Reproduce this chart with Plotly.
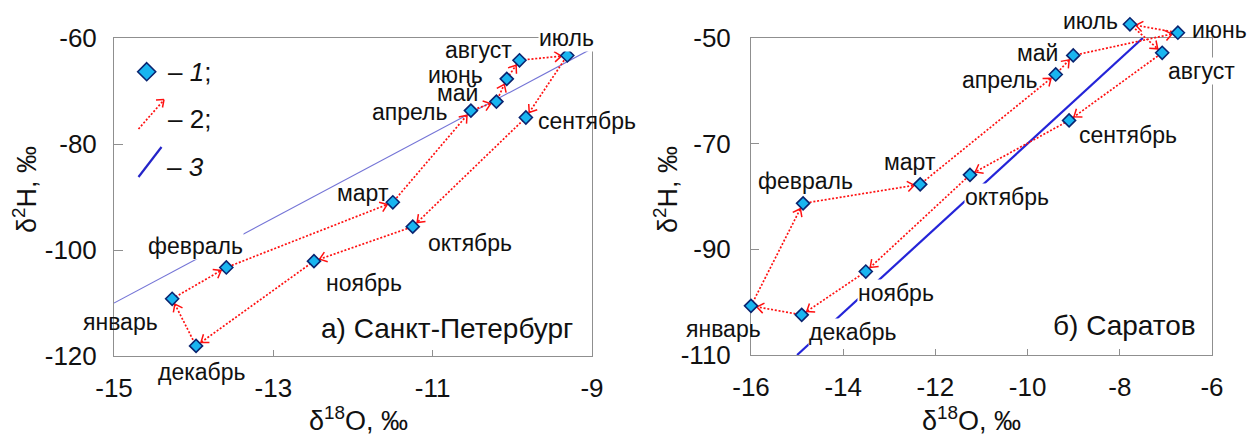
import math
import plotly.graph_objects as go

# ---------------- data ----------------
months = ['январь', 'февраль', 'март', 'апрель', 'май', 'июнь',
          'июль', 'август', 'сентябрь', 'октябрь', 'ноябрь', 'декабрь']

# a) Saint Petersburg
spb_d18O = [-14.27, -13.59, -11.50, -10.52, -10.20, -10.07, -9.31, -9.91, -9.83, -11.25, -12.49, -13.97]
spb_d2H = [-109.2, -103.3, -91.0, -73.7, -72.0, -67.7, -63.3, -64.2, -75.0, -95.6, -102.1, -118.1]
spb_path = [0, 1, 2, 3, 4, 5, 7, 6, 8, 9, 10, 11]

# b) Saratov
sar_d18O = [-16.0, -14.87, -12.33, -9.39, -9.01, -6.74, -7.78, -7.08, -9.10, -11.25, -13.51, -14.90]
sar_d2H = [-100.7, -81.3, -77.7, -56.9, -53.3, -49.0, -47.4, -52.8, -65.6, -75.9, -94.2, -102.4]
sar_path = [0, 1, 2, 3, 4, 5, 6, 7, 8, 9, 10, 11]

# line 3 (meteoric water line) end points
mwl_spb_x = [-15, -9]
mwl_spb_y = [-110, -62]
mwl_sar_x = [-15, -7.5]
mwl_sar_y = [-110, -50]

# axes
spb_xticks = [-15, -13, -11, -9]
spb_xtext = ['-15', '-13', '-11', '-9']
spb_yticks = [-120, -100, -80, -60]
spb_ytext = ['-120', '-100', '-80', '-60']
sar_xticks = [-16, -14, -12, -10, -8, -6]
sar_xtext = ['-16', '-14', '-12', '-10', '-8', '-6']
sar_yticks = [-110, -90, -70, -50]
sar_ytext = ['-110', '-90', '-70', '-50']
spb_xrange = [-15, -9]
spb_yrange = [-120, -60]
sar_xrange = [-16, -6]
sar_yrange = [-110, -50]

# ---------------- layout constants ----------------
W, H = 1249, 441
FONT = 'Liberation Sans, Arial, sans-serif'
TXT = '#111111'
FRAME = '#8f8f8f'
FILL = '#19b5f0'
EDGE = '#0a2470'
RED = '#ff1010'
DOTS = '2px,1.8px'

L_box = (114, 592, 38, 356)   # left, right, top, bottom (px)
R_box = (751, 1212, 38, 355)
EXT = 30                       # px margin of the unclipped overlay axes

# label offsets in px (dx right, dy down), chronological order
spb_off = [(-52, 23), (-31, -21), (-30, -9), (-61, 1), (-39, -9), (-51, -4),
           (-1, -17), (-41, -10), (61, 3), (57, 16), (50, 22), (6, 26)]
sar_off = [(-28, 23), (2, -22), (-10, -22), (-56, 6), (-36, -2), (42, -3),
           (-39, -3), (39, 18), (59, 15), (37, 22), (30, 21), (51, 17)]
# which labels have an opaque background (they hide lines behind them)
spb_bg = [0, 1, 0, 0, 0, 0, 1, 0, 0, 0, 0, 0]
sar_bg = [0, 0, 0, 0, 0, 0, 0, 1, 0, 1, 1, 1]


def scales(box, xr, yr):
    return (box[1] - box[0]) / (xr[1] - xr[0]), (box[3] - box[2]) / (yr[1] - yr[0])


def dom_x(b, e=0):
    return [(b[0] - e) / W, (b[1] + e) / W]


def dom_y(b, e=0):
    return [1 - (b[3] + e) / H, 1 - (b[2] - e) / H]


def ext_range(r, pp, e=EXT):
    return [r[0] - e / pp, r[1] + e / pp]


fig = go.Figure()


def add_panel(xs, ys, path, box, xr, yr, mx, my, mwl_color, mwl_width, xa, ya, oxa, oya):
    # line 3 on the framed (clipped) axes
    fig.add_trace(go.Scatter(x=mx, y=my, mode='lines', xaxis=xa, yaxis=ya,
                             line=dict(color=mwl_color, width=mwl_width),
                             showlegend=False, hoverinfo='skip'))
    # dotted path on the unclipped overlay axes
    px = [xs[i] for i in path] + [xs[path[0]]]
    py = [ys[i] for i in path] + [ys[path[0]]]
    fig.add_trace(go.Scatter(x=px, y=py, mode='lines', xaxis=oxa, yaxis=oya,
                             line=dict(color=RED, width=1.7, dash=DOTS),
                             showlegend=False, hoverinfo='skip'))
    # arrow heads (open chevrons) computed from consecutive points
    ppx, ppy = scales(box, xr, yr)
    hx, hy = [], []
    so, arm, half = 6.0, 8.5, math.radians(37)
    n = len(path)
    for k in range(n):
        i, j = path[k], path[(k + 1) % n]
        dx = (xs[j] - xs[i]) * ppx
        dy = (ys[j] - ys[i]) * ppy
        d = math.hypot(dx, dy)
        ux, uy = dx / d, dy / d
        tx, ty = -so * ux, -so * uy          # tip, px relative to end point
        pts = []
        for s in (1, -1):
            c, sn = math.cos(s * half), math.sin(s * half)
            bx = -(ux * c - uy * sn) * arm
            by = -(ux * sn + uy * c) * arm
            pts.append((tx + bx, ty + by))
        for (qx, qy) in (pts[0], (tx, ty), pts[1]):
            hx.append(xs[j] + qx / ppx)
            hy.append(ys[j] + qy / ppy)
        hx.append(None)
        hy.append(None)
    fig.add_trace(go.Scatter(x=hx, y=hy, mode='lines', xaxis=oxa, yaxis=oya,
                             line=dict(color=RED, width=1.5),
                             showlegend=False, hoverinfo='skip'))
    # markers
    fig.add_trace(go.Scatter(x=xs, y=ys, mode='markers', xaxis=oxa, yaxis=oya,
                             marker=dict(symbol='diamond', size=10, color=FILL,
                                         line=dict(color=EDGE, width=1.6)),
                             showlegend=False, text=months))


add_panel(spb_d18O, spb_d2H, spb_path, L_box, spb_xrange, spb_yrange,
          mwl_spb_x, mwl_spb_y, '#7474d6', 1.1, 'x', 'y', 'x3', 'y3')
add_panel(sar_d18O, sar_d2H, sar_path, R_box, sar_xrange, sar_yrange,
          mwl_sar_x, mwl_sar_y, '#2424d8', 2.2, 'x2', 'y2', 'x4', 'y4')

anns = []
shapes = []


def labels(xs, ys, off, bg, xref, yref):
    for k, name in enumerate(months):
        dx, dy = off[k]
        a = dict(x=xs[k], y=ys[k], xref=xref, yref=yref, text=name,
                 showarrow=False, xshift=dx, yshift=-dy,
                 xanchor='center', yanchor='middle', borderpad=0,
                 font=dict(size=23, color=TXT, family=FONT))
        if bg[k]:
            a['bgcolor'] = 'white'
        anns.append(a)


labels(spb_d18O, spb_d2H, spb_off, spb_bg, 'x3', 'y3')
labels(sar_d18O, sar_d2H, sar_off, sar_bg, 'x4', 'y4')


def paper_text(text, cx, cy, size, angle=0, xanchor='center'):
    anns.append(dict(x=cx / W, y=1 - cy / H, xref='paper', yref='paper', text=text,
                     showarrow=False, textangle=angle, xanchor=xanchor, yanchor='middle',
                     font=dict(size=size, color=TXT, family=FONT)))


# axis titles
paper_text('δ<sup>2</sup>H, ‰', 25, 190, 27, -90)
paper_text('δ<sup>2</sup>H, ‰', 666, 190, 27, -90)
paper_text('δ<sup>18</sup>O, ‰', 358, 419, 27)
paper_text('δ<sup>18</sup>O, ‰', 971, 419, 27)
# panel captions
paper_text('а) Санкт-Петербург', 447, 328, 28)
paper_text('б) Саратов', 1124, 325, 28)


def pline(x0, y0, x1, y1, color, width, dash='solid'):
    shapes.append(dict(type='line', xref='paper', yref='paper',
                       x0=x0 / W, y0=1 - y0 / H, x1=x1 / W, y1=1 - y1 / H,
                       line=dict(color=color, width=width, dash=dash)))


# inset legend
cx, cy, h = 146.7, 71.7, 9.0
shapes.append(dict(type='path', xref='paper', yref='paper',
                   path='M {a},{b} L {c},{d} L {a},{e} L {f},{d} Z'.format(
                       a=cx / W, b=1 - (cy - h) / H, c=(cx + h) / W, d=1 - cy / H,
                       e=1 - (cy + h) / H, f=(cx - h) / W),
                   fillcolor=FILL, line=dict(color=EDGE, width=1.6)))
pline(138.5, 129, 163, 101, RED, 1.7, DOTS)
pline(156, 100, 164, 99.5, RED, 1.5)
pline(164, 99.5, 162.5, 107.5, RED, 1.5)
pline(138.5, 177, 161.5, 147, '#2424c8', 2.2)
paper_text('– <i>1</i>;', 166, 72, 26, xanchor='left')
paper_text('– 2;', 166, 119, 26, xanchor='left')
paper_text('– <i>3</i>', 165, 167, 26, xanchor='left')

axis_common = dict(showgrid=False, zeroline=False, showline=True, mirror=True,
                   linecolor=FRAME, linewidth=1, ticks='inside', tickcolor=FRAME,
                   automargin=False, title=dict(text=''),
                   tickfont=dict(size=26, color=TXT, family=FONT), fixedrange=True)
hidden = dict(visible=False, fixedrange=True, showgrid=False, zeroline=False, automargin=False)

ppx_L, ppy_L = scales(L_box, spb_xrange, spb_yrange)
ppx_R, ppy_R = scales(R_box, sar_xrange, sar_yrange)

fig.update_layout(
    template='none',
    width=W, height=H, autosize=False, margin=dict(l=0, r=0, t=0, b=0, pad=0),
    paper_bgcolor='white', plot_bgcolor='rgba(0,0,0,0)', showlegend=False,
    font=dict(family=FONT, color=TXT),
    xaxis=dict(domain=dom_x(L_box), range=spb_xrange, tickvals=spb_xticks, ticktext=spb_xtext,
               ticklen=6, ticklabelstandoff=9, anchor='y', **axis_common),
    yaxis=dict(domain=dom_y(L_box), range=spb_yrange, tickvals=spb_yticks, ticktext=spb_ytext,
               ticklen=9, ticklabelstandoff=11, anchor='x', **axis_common),
    xaxis2=dict(domain=dom_x(R_box), range=sar_xrange, tickvals=sar_xticks, ticktext=sar_xtext,
                ticklen=6, ticklabelstandoff=9, anchor='y2', **axis_common),
    yaxis2=dict(domain=dom_y(R_box), range=sar_yrange, tickvals=sar_yticks, ticktext=sar_ytext,
                ticklen=8, ticklabelstandoff=14, anchor='x2', **axis_common),
    xaxis3=dict(domain=dom_x(L_box, EXT), range=ext_range(spb_xrange, ppx_L), anchor='y3', **hidden),
    yaxis3=dict(domain=dom_y(L_box, EXT), range=ext_range(spb_yrange, ppy_L), anchor='x3', **hidden),
    xaxis4=dict(domain=dom_x(R_box, EXT), range=ext_range(sar_xrange, ppx_R), anchor='y4', **hidden),
    yaxis4=dict(domain=dom_y(R_box, EXT), range=ext_range(sar_yrange, ppy_R), anchor='x4', **hidden),
    annotations=anns, shapes=shapes,
)

fig.write_html('out.html')
